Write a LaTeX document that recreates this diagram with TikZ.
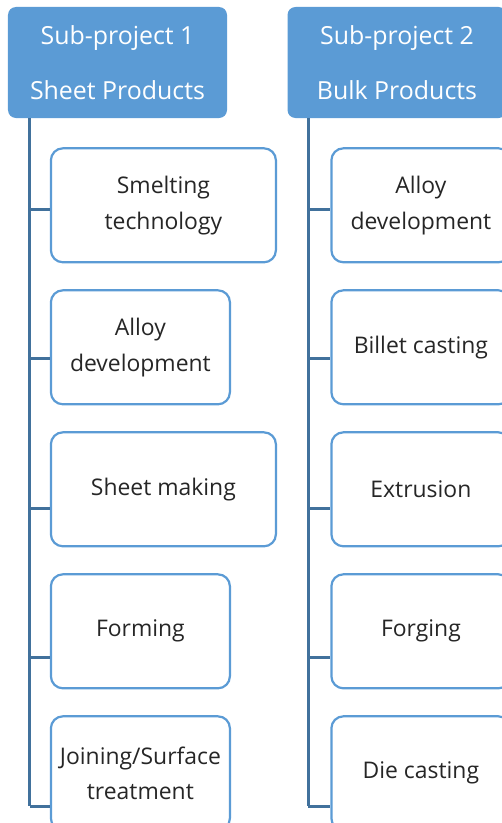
\documentclass[tikz,border=0pt]{standalone}
\usepackage{fontspec}
\setmainfont{Open Sans}
\usetikzlibrary{positioning}
\definecolor{headblue}{HTML}{5B9BD5}
\definecolor{lineblue}{HTML}{41719C}
\definecolor{textgray}{HTML}{262626}
\tikzset{head/.style={rectangle, rounded corners=8bp, minimum width=219bp, minimum height=111bp, fill=headblue, text=white, align=center, font=\fontsize{25}{36}\selectfont},
     item/.style={rectangle, rounded corners=12bp, minimum width=179bp, minimum height=114bp, draw=headblue, line width=2.2bp, fill=white, text=textgray, align=center, font=\fontsize{23}{36}\selectfont},
     wide/.style={minimum width=225bp},
     stem/.style={draw=lineblue, line width=3bp}}

\begin{document}
\begin{tikzpicture}[x=1bp,y=-1bp]
\useasboundingbox (0,0) rectangle (502,823);
\clip (0,0) rectangle (502,823);

% headers
\node (sp1) [head] at (117.5,62.5) {Sub-project 1\\[19bp]Sheet Products};
\node (sp2) [head] at (397,62.5) {Sub-project 2\\[19bp]Bulk Products};

% sheet products
\node (smelt) [item, wide, anchor=north west] at ([shift={(42,29)}]sp1.south west) {Smelting\\technology};
\node (alloya) [item, below=25.8bp of smelt.south west, anchor=north west] {Alloy\\development};
\node (sheet) [item, wide, below=25.8bp of alloya.south west, anchor=north west] {Sheet making};
\node (forming) [item, below=25.8bp of sheet.south west, anchor=north west] {Forming};
\node (joining) [item, below=25.8bp of forming.south west, anchor=north west] {Joining/Surface\\treatment};

% bulk products
\node (alloyb) [item, anchor=north west] at ([shift={(43,29)}]sp2.south west) {Alloy\\development};
\node (billet) [item, below=25.8bp of alloyb.south west, anchor=north west] {Billet casting};
\node (extr) [item, below=25.8bp of billet.south west, anchor=north west] {Extrusion};
\node (forging) [item, below=25.8bp of extr.south west, anchor=north west] {Forging};
\node (die) [item, below=25.8bp of forging.south west, anchor=north west] {Die casting};

% stems
\coordinate (top1) at ([xshift=22bp]sp1.south west);
\coordinate (top2) at ([xshift=21bp]sp2.south west);
\foreach \b/\y [count=\i] in {smelt/91, alloya/240, sheet/390, forming/539, joining/688}
  {\path ([yshift=-\y bp]top1) coordinate (l\i);
   \draw[stem] (l\i) -- (l\i -| \b.west);}
\foreach \b/\y [count=\i] in {alloyb/91, billet/240, extr/390, forging/539, die/688}
  {\path ([yshift=-\y bp]top2) coordinate (r\i);
   \draw[stem] (r\i) -- (r\i -| \b.west);}
\draw[stem] (top1) -- (l5);
\draw[stem] (top2) -- (r5);
\end{tikzpicture}
\end{document}
